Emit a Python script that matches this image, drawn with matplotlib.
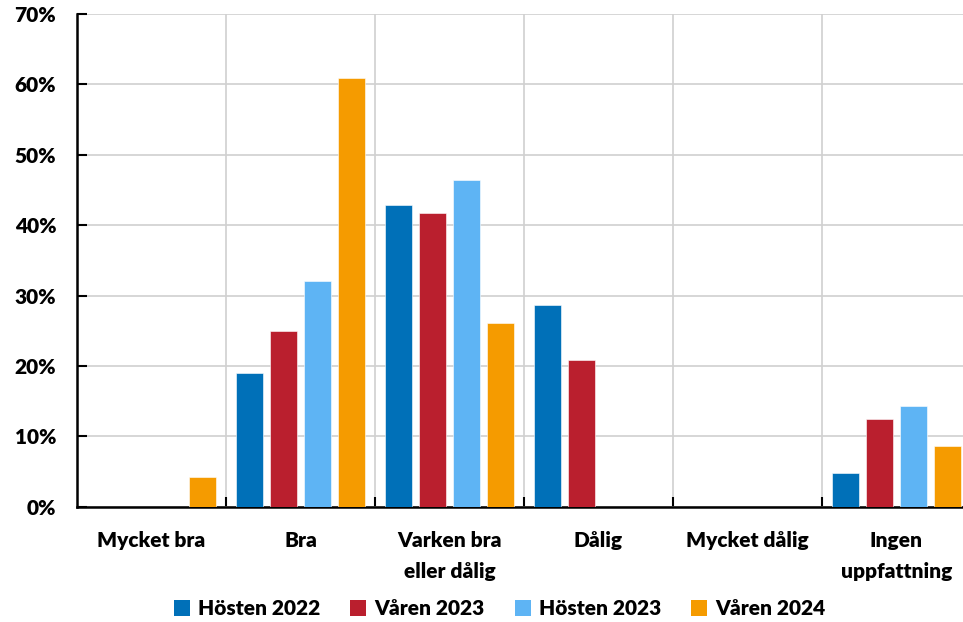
import numpy as np
import matplotlib.pyplot as plt
from matplotlib.patches import Patch
from matplotlib.ticker import FixedLocator, PercentFormatter

plt.rcParams['font.family'] = ['Lato', 'DejaVu Sans']
plt.rcParams['font.weight'] = 'heavy'

categories = ['Mycket bra', 'Bra', 'Varken bra\neller dålig', 'Dålig',
              'Mycket dålig', 'Ingen\nuppfattning']
series_names = ['Hösten 2022', 'Våren 2023', 'Hösten 2023', 'Våren 2024']
hosten_2022 = [0.0, 19.0, 42.9, 28.6, 0.0, 4.8]
varen_2023 = [0.0, 25.0, 41.7, 20.9, 0.0, 12.5]
hosten_2023 = [0.0, 32.1, 46.4, 0.0, 0.0, 14.3]
varen_2024 = [4.3, 60.9, 26.1, 0.0, 0.0, 8.7]
colors = ['#0070B8', '#BA1F2E', '#5EB4F4', '#F59B00']

series = [hosten_2022, varen_2023, hosten_2023, varen_2024]
FS = 15

fig = plt.figure(figsize=(9.63, 6.22), dpi=100)
ax = fig.add_axes([0.080, 0.185, 0.928, 0.793])

x = np.arange(len(categories))
bar_w = 0.18
step = 0.228
for i, (vals, col) in enumerate(zip(series, colors)):
    ax.bar(x + (i - 1.5) * step, vals, width=bar_w, color=col,
           edgecolor='white', linewidth=0.4, zorder=3)

ax.set_xlim(-0.5, len(categories) - 0.5)
ax.set_ylim(0, 70)
ax.set_yticks(np.arange(0, 71, 10))
ax.yaxis.set_major_formatter(PercentFormatter(decimals=0))

# category labels centred, ticks/grid on the boundaries
ax.set_xticks(x)
ax.set_xticklabels(categories, fontsize=FS, fontweight='heavy', va='top',
                   linespacing=1.75)
ax.tick_params(axis='x', which='major', length=0, pad=17)
ax.xaxis.set_minor_locator(FixedLocator(np.arange(0.5, len(categories) - 0.5, 1)))
ax.tick_params(axis='x', which='minor', direction='in', length=7, width=1.5,
               color='black')
ax.tick_params(axis='y', direction='in', length=7, width=1.5, pad=15,
               labelsize=FS)
for lab in ax.get_yticklabels():
    lab.set_fontweight('heavy')

ax.grid(axis='y', color='#D0D0D0', linewidth=1.2, zorder=0)
ax.grid(axis='x', which='minor', color='#D0D0D0', linewidth=1.2, zorder=0)

for side in ['top', 'right']:
    ax.spines[side].set_visible(False)
ax.spines['left'].set_linewidth(1.8)
ax.spines['bottom'].set_linewidth(1.8)

handles = [Patch(facecolor=c, edgecolor='none') for c in colors]
fig.legend(handles, series_names, loc='lower center', ncol=4,
           bbox_to_anchor=(0.519, -0.024), frameon=False,
           prop={'size': FS, 'weight': 'heavy'}, handlelength=0.75,
           handleheight=0.75, handletextpad=0.4, columnspacing=1.45)

fig.savefig('out.png', dpi=100)
